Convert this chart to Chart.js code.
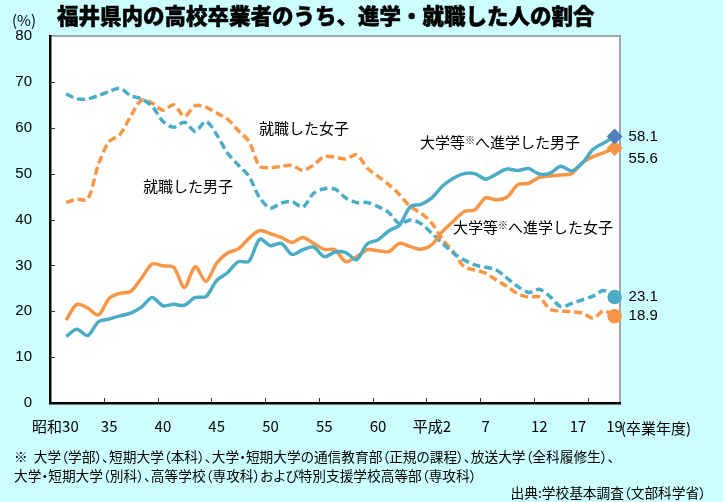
<!DOCTYPE html>
<html lang="ja">
<head>
<meta charset="utf-8">
<title>福井県内の高校卒業者のうち、進学・就職した人の割合</title>
<script src="https://cdn.jsdelivr.net/npm/chart.js@4.4.1/dist/chart.umd.min.js"></script>
<style>
  html, body { margin: 0; padding: 0; background: #ccffff; }
  #wrap { position: relative; width: 723px; height: 502px; overflow: hidden; font-family: "Noto Sans CJK JP", sans-serif; color: #000; }
  #wrap canvas { position: absolute; left: 0; top: 0; }
  .txt { position: absolute; white-space: nowrap; line-height: 1; }
  .title { left: 57px; top: 4px; font-size: 21.5px; font-weight: 900; -webkit-text-stroke: 0.5px #000; }
  .unit { left: 12px; top: 12px; font-size: 15px; }
  .name { font-size: 15px; }
  .name sup { font-size: 10px; vertical-align: 4px; }
  .note { left: 14px; font-size: 13.7px; font-feature-settings: "palt"; }
  .src { right: 17px; top: 486px; font-size: 13.7px; font-feature-settings: "palt"; }
</style>
</head>
<body>
<div id="wrap">
  <canvas id="myChart" width="723" height="502"></canvas>
  <div class="txt title">福井県内の高校卒業者のうち、進学・就職した人の割合</div>
  <div class="txt unit">(%)</div>
  <div class="txt name" style="left:259px; top:120px;">就職した女子</div>
  <div class="txt name" style="left:143px; top:178px;">就職した男子</div>
  <div class="txt name" style="left:420px; top:134px;">大学等<sup>※</sup>へ進学した男子</div>
  <div class="txt name" style="left:453px; top:219px;">大学等<sup>※</sup>へ進学した女子</div>
  <div class="txt name" style="left:621px; top:420px;">(卒業年度)</div>
  <div class="txt note" style="top:450px;">※&nbsp;&nbsp;大学（学部）、短期大学（本科）、大学・短期大学の通信教育部（正規の課程）、放送大学（全科履修生）、</div>
  <div class="txt note" style="top:469px;">大学・短期大学（別科）、高等学校（専攻科）および特別支援学校高等部（専攻科）</div>
  <div class="txt src">出典:学校基本調査（文部科学省）</div>
</div>
<script>
// 卒業年度 (昭和30 = 1955 ... 平成19 = 2007)
var years = [1955, 1956, 1957, 1958, 1959, 1960, 1961, 1962, 1963, 1964,
             1965, 1966, 1967, 1968, 1969, 1970, 1971, 1972, 1973, 1974,
             1975, 1976, 1977, 1978, 1979, 1980, 1981, 1982, 1983, 1984,
             1985, 1986, 1987, 1988, 1989, 1990, 1991, 1992, 1993, 1994,
             1995, 1996, 1997, 1998, 1999, 2000, 2001, 2002, 2003, 2004,
             2005, 2006, 2007];

var tickYears  = [1955, 1960, 1965, 1970, 1975, 1980, 1985, 1990, 1995, 2000, 2005, 2007];
var tickLabels = ['昭和30', '35', '40', '45', '50', '55', '60', '平成2', '7', '12', '17', '19'];

// % (no value for 昭和30)
var jobMale = [null,
  67.4, 66.3, 66.3, 67.0, 67.9, 68.6, 67.0, 66.3, 64.7, 61.4,
  60.1, 61.2, 59.2, 61.4, 58.5, 54.5, 51.9, 49.4, 44.7, 42.5,
  43.6, 43.9, 42.7, 45.7, 46.7, 46.6, 44.7, 43.7, 43.7, 42.8,
  41.5, 39.1, 39.9, 39.1, 37.0, 34.8, 32.7, 31.2, 30.1, 29.6,
  29.0, 27.2, 25.4, 24.1, 24.8, 23.2, 21.0, 21.7, 22.5, 23.3,
  24.5, 23.1];

var jobFemale = [null,
  43.7, 44.4, 44.4, 52.0, 57.0, 58.5, 62.5, 66.0, 65.4, 63.8,
  65.0, 62.5, 64.8, 64.5, 63.2, 61.9, 59.4, 57.0, 51.6, 51.3,
  51.6, 51.8, 50.7, 51.9, 53.7, 53.6, 53.2, 54.1, 51.2, 49.4,
  47.6, 45.4, 42.8, 41.4, 39.2, 35.6, 33.0, 29.7, 29.0, 28.3,
  26.8, 25.4, 23.8, 23.1, 23.1, 20.4, 20.1, 19.9, 19.6, 18.5,
  20.1, 18.9];

var univMale = [null,
  14.5, 16.1, 14.7, 17.7, 18.3, 19.0, 19.6, 20.9, 23.0, 21.2,
  21.5, 21.3, 23.0, 23.2, 26.7, 28.4, 30.8, 30.9, 35.7, 34.3,
  34.8, 32.4, 33.4, 34.0, 31.9, 32.9, 32.8, 31.2, 34.7, 35.6,
  37.5, 38.8, 42.8, 43.3, 44.7, 47.3, 49.0, 50.0, 50.0, 48.8,
  49.9, 51.0, 50.7, 51.1, 49.9, 50.1, 51.6, 50.6, 52.3, 55.3,
  56.7, 58.1];

var univFemale = [null,
  18.1, 21.5, 20.7, 19.2, 22.8, 23.9, 24.3, 27.2, 30.3, 29.9,
  29.6, 25.2, 29.7, 26.5, 30.5, 32.7, 33.6, 35.9, 37.6, 36.9,
  36.1, 35.0, 36.1, 34.8, 33.5, 33.4, 30.8, 31.9, 33.4, 33.2,
  33.0, 34.8, 34.1, 33.5, 34.5, 37.4, 39.6, 41.7, 42.1, 44.7,
  44.3, 44.9, 47.6, 47.9, 49.2, 49.5, 49.7, 50.0, 52.4, 53.7,
  54.6, 55.6];

var BLUE = '#4bacc6';
var ORANGE = '#f79646';
var last = years.length - 1;

function endRadius(ctx) {
    return ctx.dataIndex === last ? 5.5 : 0;
}

// white plot area, grey top/right frame, inward tick marks, end values
var framePlugin = {
    id: 'frame',
    beforeDraw: function (chart) {
        var ctx = chart.ctx, a = chart.chartArea;
        ctx.save();
        ctx.fillStyle = '#ffffff';
        ctx.fillRect(a.left, a.top, a.right - a.left, a.bottom - a.top);
        ctx.strokeStyle = '#a6a6a6';
        ctx.lineWidth = 2;
        ctx.beginPath();
        ctx.moveTo(a.left, a.top);
        ctx.lineTo(a.right, a.top);
        ctx.lineTo(a.right, a.bottom);
        ctx.stroke();
        ctx.restore();
    },
    afterDatasetsDraw: function (chart) {
        var ctx = chart.ctx, a = chart.chartArea;
        var xs = chart.scales.x, ys = chart.scales.y;
        ctx.save();
        ctx.strokeStyle = '#333333';
        ctx.lineWidth = 1;
        ctx.beginPath();
        for (var i = 5; i < years.length; i += 5) {
            var x = Math.round((xs.getPixelForTick(i - 1) + xs.getPixelForTick(i)) / 2) + 0.5;
            ctx.moveTo(x, a.bottom);
            ctx.lineTo(x, a.bottom - 5);
        }
        ys.ticks.forEach(function (t) {
            if (t.value <= 0 || t.value >= 80) return;
            var y = Math.round(ys.getPixelForValue(t.value)) + 0.5;
            ctx.moveTo(a.left, y);
            ctx.lineTo(a.left + 5, y);
        });
        ctx.stroke();

        ctx.fillStyle = '#000';
        ctx.font = '15px "Liberation Sans", Arial, sans-serif';
        ctx.textBaseline = 'middle';
        ctx.textAlign = 'left';
        chart.data.datasets.forEach(function (ds, k) {
            var pt = chart.getDatasetMeta(k).data[last];
            ctx.fillText(ds.data[last].toFixed(1), pt.x + 14, pt.y + (ds.endLabelDy || 0));
        });
        ctx.restore();
    }
};

var ctx = document.getElementById('myChart').getContext('2d');
var chart = new Chart(ctx, {
    type: 'line',
    data: {
        labels: years,
        datasets: [{
            label: '大学等へ進学した男子',
            data: univMale,
            borderColor: BLUE,
            borderWidth: 3.5,
            pointStyle: 'rectRot',
            pointBackgroundColor: '#4f81bd',
            pointBorderColor: '#4f81bd',
            endLabelDy: 0
        }, {
            label: '大学等へ進学した女子',
            data: univFemale,
            borderColor: ORANGE,
            borderWidth: 3.5,
            pointStyle: 'rectRot',
            pointBackgroundColor: ORANGE,
            pointBorderColor: ORANGE,
            endLabelDy: 11
        }, {
            label: '就職した男子',
            data: jobMale,
            borderColor: BLUE,
            borderWidth: 3.5,
            borderDash: [8, 4],
            pointStyle: 'circle',
            pointBackgroundColor: BLUE,
            pointBorderColor: BLUE,
            endLabelDy: 0
        }, {
            label: '就職した女子',
            data: jobFemale,
            borderColor: ORANGE,
            borderWidth: 3.5,
            borderDash: [8, 4],
            pointStyle: 'circle',
            pointBackgroundColor: ORANGE,
            pointBorderColor: ORANGE,
            endLabelDy: 0
        }]
    },
    options: {
        responsive: false,
        animation: false,
        devicePixelRatio: 1,
        layout: { padding: { top: 36, right: 103, bottom: 59, left: 0 } },
        elements: {
            line: { tension: 0.3, fill: false },
            point: { radius: endRadius, hoverRadius: endRadius, borderWidth: 1 }
        },
        plugins: {
            legend: { display: false },
            tooltip: { enabled: false }
        },
        scales: {
            x: {
                type: 'category',
                offset: true,
                grid: { display: false, drawTicks: false },
                border: { display: true, color: '#000', width: 2.5 },
                afterFit: function (s) { s.height = 40; },
                ticks: {
                    autoSkip: false,
                    maxRotation: 0,
                    padding: 14,
                    color: '#000',
                    font: { family: '"Noto Sans CJK JP", sans-serif', size: 15 },
                    callback: function (val, i) {
                        var n = tickYears.indexOf(years[i]);
                        if (n < 0) return '';
                        // the reference sets 17 a little to the left of its slot
                        return tickLabels[n] === '17' ? '17\u2003\u2003' : tickLabels[n];
                    }
                }
            },
            y: {
                min: 0,
                max: 80,
                grid: { display: false, drawTicks: false },
                border: { display: true, color: '#000', width: 2.5 },
                afterFit: function (s) { s.width = 50; },
                ticks: {
                    stepSize: 10,
                    padding: 18,
                    color: '#000',
                    font: { family: '"Liberation Sans", Arial, sans-serif', size: 15 }
                }
            }
        }
    },
    plugins: [framePlugin]
});
</script>
</body>
</html>
